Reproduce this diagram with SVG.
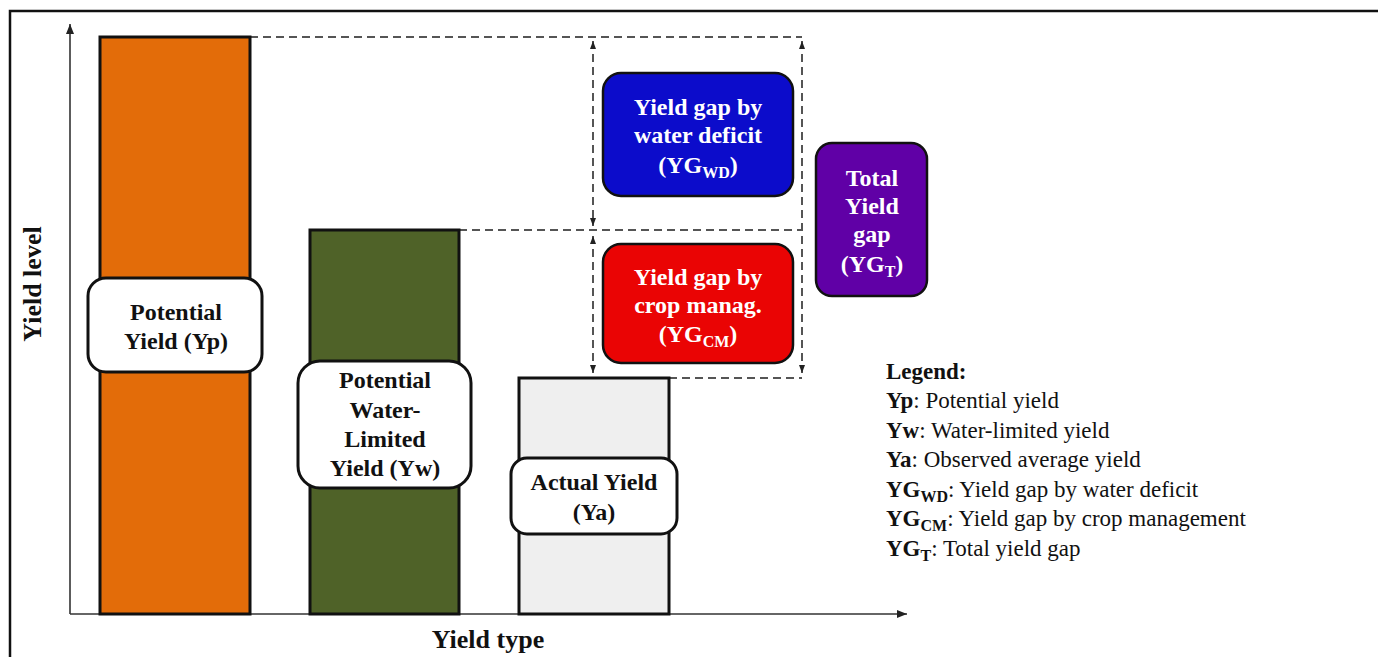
<svg xmlns="http://www.w3.org/2000/svg" width="1378" height="657" viewBox="0 0 1378 657">
<style>
  .bar { stroke: #111; stroke-width: 3; }
  .lbl { fill: #fff; stroke: #111; stroke-width: 3; }
  .gap { stroke: #111; stroke-width: 2.5; }
  .t { font-family: "Liberation Serif", "Times New Roman", serif; font-weight: bold; font-size: 24px; text-anchor: middle; }
  .w { fill: #fff; }
  .k { fill: #111; }
  .sub { font-size: 16px; }
  .dash { stroke: #555; stroke-width: 2; stroke-dasharray: 8 5; fill: none; }
  .axis { stroke: #333; stroke-width: 1.6; fill: none; }
  .lg { font-family: "Liberation Serif", "Times New Roman", serif; font-size: 23px; fill: #111; }
  .b { font-weight: bold; }
</style>
<defs>
  <marker id="ah" viewBox="0 0 8 6" refX="8" refY="3" markerWidth="8" markerHeight="6" markerUnits="userSpaceOnUse" orient="auto-start-reverse">
    <path d="M0,0 L8,3 L0,6 z" fill="#222"/>
  </marker>
  <marker id="ax" viewBox="0 0 10 8" refX="10" refY="4" markerWidth="10" markerHeight="8" markerUnits="userSpaceOnUse" orient="auto">
    <path d="M0,0 L10,4 L0,8 z" fill="#222"/>
  </marker>
</defs>
<rect width="1378" height="657" fill="#fff"/>
<rect x="10" y="11" width="1380" height="660" fill="none" stroke="#111" stroke-width="2.5"/>

<g id="axes">
  <path class="axis" d="M70,614 L70,24" marker-end="url(#ax)"/>
  <path class="axis" d="M70,614 L907,614" marker-end="url(#ax)"/>
  <text class="t k" x="0" y="0" font-size="26px" style="font-size:26px" transform="translate(41,284) rotate(-90)">Yield level</text>
  <text class="t k" x="488" y="648" style="font-size:26px">Yield type</text>
</g>

<g id="connectors">
  <path class="dash" d="M250,37 L802,37"/>
  <path class="dash" d="M459,230 L802,230"/>
  <path class="dash" d="M669,378 L802,378"/>
  <path class="dash" d="M593,41 L593,226" marker-start="url(#ah)" marker-end="url(#ah)"/>
  <path class="dash" d="M593,236 L593,373" marker-start="url(#ah)" marker-end="url(#ah)"/>
  <path class="dash" d="M802,41 L802,373" marker-start="url(#ah)" marker-end="url(#ah)"/>
</g>

<g id="bar-yp">
  <rect class="bar" x="100" y="37" width="150" height="577" fill="#E36C09"/>
  <rect class="lbl" x="88" y="278" width="174" height="94" rx="18"/>
  <text class="t k" x="176" y="320">Potential</text>
  <text class="t k" x="176" y="349">Yield (Yp)</text>
</g>

<g id="bar-yw">
  <rect class="bar" x="310" y="230" width="149" height="384" fill="#4F6228"/>
  <rect class="lbl" x="298" y="361" width="173" height="127" rx="22"/>
  <text class="t k" x="385" y="388">Potential</text>
  <text class="t k" x="385" y="418">Water-</text>
  <text class="t k" x="385" y="447">Limited</text>
  <text class="t k" x="385" y="476">Yield (Yw)</text>
</g>

<g id="bar-ya">
  <rect class="bar" x="519" y="378" width="150" height="236" fill="#EFEFEF"/>
  <rect class="lbl" x="511" y="458" width="166" height="76" rx="16"/>
  <text class="t k" x="594" y="490">Actual Yield</text>
  <text class="t k" x="594" y="520">(Ya)</text>
</g>

<g id="gap-wd">
  <rect class="gap" x="603" y="73" width="190" height="123" rx="18" fill="#0C0CCB"/>
  <text class="t w" x="698" y="115">Yield gap by</text>
  <text class="t w" x="698" y="143">water deficit</text>
  <text class="t w" x="698" y="173">(YG<tspan class="sub" dy="5">WD</tspan><tspan dy="-5">)</tspan></text>
</g>

<g id="gap-cm">
  <rect class="gap" x="603" y="244" width="190" height="119" rx="18" fill="#EA0404"/>
  <text class="t w" x="698" y="285">Yield gap by</text>
  <text class="t w" x="698" y="313">crop manag.</text>
  <text class="t w" x="698" y="342">(YG<tspan class="sub" dy="5">CM</tspan><tspan dy="-5">)</tspan></text>
</g>

<g id="gap-total">
  <rect class="gap" x="816" y="143" width="111" height="153" rx="16" fill="#6000A6"/>
  <text class="t w" x="872" y="186">Total</text>
  <text class="t w" x="872" y="214">Yield</text>
  <text class="t w" x="872" y="242">gap</text>
  <text class="t w" x="872" y="272">(YG<tspan class="sub" dy="5">T</tspan><tspan dy="-5">)</tspan></text>
</g>

<g id="legend">
  <text class="lg b" x="886" y="379">Legend:</text>
  <text class="lg" x="886" y="408"><tspan class="b">Yp</tspan>: Potential yield</text>
  <text class="lg" x="886" y="438"><tspan class="b">Yw</tspan>: Water-limited yield</text>
  <text class="lg" x="886" y="467"><tspan class="b">Ya</tspan>: Observed average yield</text>
  <text class="lg" x="886" y="497"><tspan class="b">YG</tspan><tspan class="b" style="font-size:16px" dy="5">WD</tspan><tspan dy="-5">: Yield gap by water deficit</tspan></text>
  <text class="lg" x="886" y="526"><tspan class="b">YG</tspan><tspan class="b" style="font-size:16px" dy="5">CM</tspan><tspan dy="-5">: Yield gap by crop management</tspan></text>
  <text class="lg" x="886" y="556"><tspan class="b">YG</tspan><tspan class="b" style="font-size:16px" dy="5">T</tspan><tspan dy="-5">: Total yield gap</tspan></text>
</g>
</svg>
